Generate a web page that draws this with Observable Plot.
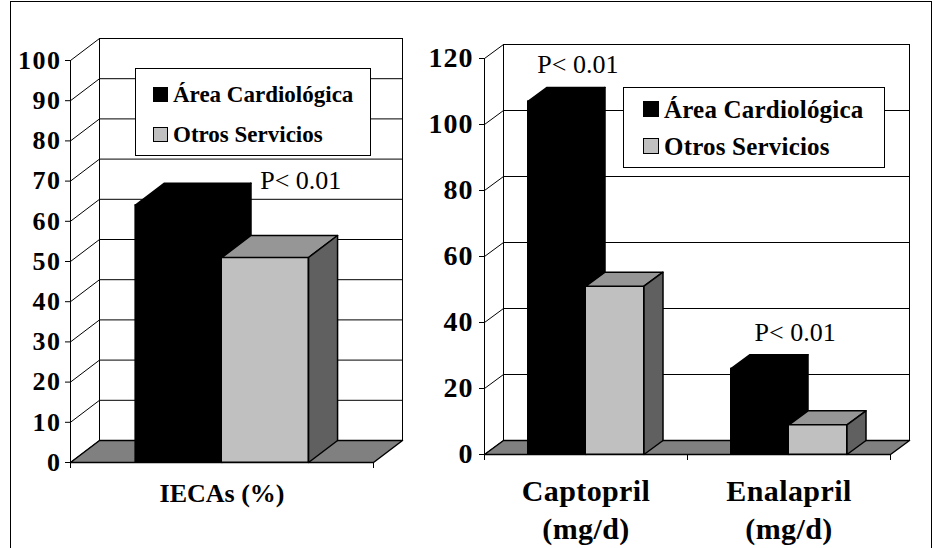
<!DOCTYPE html>
<html><head><meta charset="utf-8">
<script src="https://cdn.jsdelivr.net/npm/d3@7"></script>
<script src="https://cdn.jsdelivr.net/npm/@observablehq/plot@0.6"></script>
<style>
body{margin:0;background:#fff;}
#wrap{position:relative;width:935px;height:548px;overflow:hidden;background:#fff;font-family:"Liberation Serif","Times New Roman",serif;}
#wrap svg{position:absolute;top:0;}
.frame{position:absolute;left:10px;top:1px;width:922px;height:600px;border:1px solid #000;box-sizing:border-box;}
.legend{position:absolute;background:#fff;border:1px solid #000;box-sizing:border-box;z-index:5;}
.legend .row{position:absolute;display:flex;align-items:center;font-weight:bold;line-height:1;white-space:nowrap;}
.legend .sw{border:1px solid #000;box-sizing:border-box;margin-right:5px;flex:none;}
</style></head>
<body><div id="wrap"><div class="frame"></div></div>
<script>
// ---------- data ----------
const seriesNames = ["Área Cardiológica", "Otros Servicios"];
const seriesFront = ["#000000", "#c0c0c0"];
const seriesTop = ["#000000", "#969696"];
const seriesSide = ["#000000", "#606060"];

const leftCategories = ["IECAs (%)"];
const leftAreaCardio = [64];
const leftOtros = [51];
const leftTicks = [0, 10, 20, 30, 40, 50, 60, 70, 80, 90, 100];
const leftNotes = ["P< 0.01"];
const leftNoteX = [0.76];
const leftNoteY = [68];

const rightCategories = ["Captopril\n(mg/d)", "Enalapril\n(mg/d)"];
const rightAreaCardio = [107, 26];
const rightOtros = [51, 9];
const rightTicks = [0, 20, 40, 60, 80, 100, 120];
const rightNotes = ["P< 0.01", "P< 0.01"];
const rightNoteX = [0.46, 1.53];
const rightNoteY = [115.5, 34.5];

// ---------- chart builder ----------
function chart3d(cfg) {
  const {categories, values, ticks, width, height, xRange, yRange, depth,
         tickFont, tickDx, catFont, catDy, notes, noteX, noteY} = cfg;
  const n = categories.length;
  const yMax = ticks[ticks.length - 1];
  const kx = (xRange[1] - xRange[0]) / n;
  const ky = (yRange[0] - yRange[1]) / yMax;
  const ddx = depth[0] / kx, ddy = depth[1] / ky;
  const bw = 1 / 3.5; // gap width 150%
  const X = d => d[0], Y = d => d[1];
  const marks = [];
  // walls
  marks.push(Plot.link(ticks, {x1: 0, y1: t => t, x2: ddx, y2: t => t + ddy, stroke: "#000", strokeWidth: 1}));
  marks.push(Plot.ruleY(ticks.slice(1), {y: t => t + ddy, x1: ddx, x2: n + ddx, stroke: "#000", strokeWidth: 1}));
  marks.push(Plot.ruleX([ddx, n + ddx], {y1: ddy, y2: yMax + ddy, stroke: "#000"}));
  marks.push(Plot.ruleX([0], {y1: 0, y2: yMax, stroke: "#000"}));
  // y ticks + labels
  marks.push(Plot.ruleY(ticks, {y: t => t, x1: -5 / kx, x2: 0, stroke: "#000"}));
  marks.push(Plot.text(ticks, {x: 0, y: t => t, text: t => String(t), textAnchor: "end", dx: tickDx,
    fontSize: tickFont, fontWeight: "bold", fontFamily: "Liberation Serif", fill: "#000"}));
  // floor
  marks.push(Plot.line([[0, 0], [n, 0], [n + ddx, ddy], [ddx, ddy]],
    {x: X, y: Y, fill: "#808080", stroke: "#000", curve: "linear-closed"}));
  // x ticks
  marks.push(Plot.ruleX(d3.range(n + 1), {y1: 0, y2: -6 / ky, stroke: "#000"}));
  // bars
  categories.forEach((c, i) => {
    values.forEach((vals, j) => {
      const v = vals[i];
      const x1 = i + 0.5 - bw + j * bw, x2 = x1 + bw;
      marks.push(Plot.rect([{x1, x2, y1: 0, y2: v}], {x1: "x1", x2: "x2", y1: "y1", y2: "y2",
        fill: seriesFront[j], stroke: "#000", strokeWidth: 1}));
      marks.push(Plot.line([[x1, v], [x2, v], [x2 + ddx, v + ddy], [x1 + ddx, v + ddy]],
        {x: X, y: Y, fill: seriesTop[j], stroke: "#000", curve: "linear-closed"}));
      marks.push(Plot.line([[x2, 0], [x2 + ddx, ddy], [x2 + ddx, v + ddy], [x2, v]],
        {x: X, y: Y, fill: seriesSide[j], stroke: "#000", curve: "linear-closed"}));
    });
  });
  // category labels
  marks.push(Plot.text(categories, {x: (d, i) => i + 0.5, y: 0, text: d => d, lineAnchor: "top", dy: catDy,
    lineHeight: 1.25, fontSize: catFont, fontWeight: "bold", fontFamily: "Liberation Serif", fill: "#000"}));
  // annotations
  marks.push(Plot.text(notes, {x: (d, i) => noteX[i], y: (d, i) => noteY[i], text: d => d, lineAnchor: "bottom",
    fontSize: 26, fontFamily: "Liberation Serif", fill: "#000"}));
  const svg = Plot.plot({
    width, height, margin: 0,
    x: {type: "linear", domain: [0, n], range: xRange, axis: null},
    y: {type: "linear", domain: [0, yMax], range: yRange, axis: null},
    style: {background: "transparent", overflow: "visible"},
    marks
  });
  d3.select(svg).selectAll("text").each(function() {
    const s = this.textContent;
    if (/^\d+$/.test(s)) this.style.letterSpacing = cfg.tickSpacing + "px";
    else if (!s.startsWith("P<")) this.style.letterSpacing = cfg.catSpacing + "px";
  });
  return svg;
}

const wrap = document.getElementById("wrap");

const left = chart3d({
  categories: leftCategories, values: [leftAreaCardio, leftOtros], ticks: leftTicks,
  width: 440, height: 548, xRange: [70, 373], yRange: [462, 60], depth: [29, 22],
  tickFont: 26, tickDx: -9, tickSpacing: 1.5, catFont: 26, catDy: 16, catSpacing: 0,
  notes: leftNotes, noteX: leftNoteX, noteY: leftNoteY
});
left.style.left = "0px";
wrap.appendChild(left);

const right = chart3d({
  categories: rightCategories, values: [rightAreaCardio, rightOtros], ticks: rightTicks,
  width: 495, height: 548, xRange: [44, 450], yRange: [454, 58], depth: [19, 14],
  tickFont: 28, tickDx: -11, tickSpacing: 1, catFont: 30, catDy: 20, catSpacing: 0.4,
  notes: rightNotes, noteX: rightNoteX, noteY: rightNoteY
});
right.style.left = "440px";
wrap.appendChild(right);

// ---------- legends ----------
function legend(box, rowTops, rowH, sw, fontSize, spacing) {
  const div = document.createElement("div");
  div.className = "legend";
  Object.assign(div.style, {left: box[0] + "px", top: box[1] + "px", width: box[2] + "px", height: box[3] + "px"});
  seriesNames.forEach((name, j) => {
    const row = document.createElement("div");
    row.className = "row";
    Object.assign(row.style, {left: box[4] + "px", top: rowTops[j] + "px", height: rowH + "px",
      fontSize: fontSize + "px", letterSpacing: spacing + "px"});
    const s = document.createElement("span");
    s.className = "sw";
    Object.assign(s.style, {width: sw + "px", height: sw + "px", background: seriesFront[j]});
    const t = document.createElement("span");
    t.textContent = name;
    row.appendChild(s); row.appendChild(t);
    div.appendChild(row);
  });
  wrap.appendChild(div);
}
legend([135, 68, 236, 88, 17], [10, 50], 31, 15, 23, 0);
legend([623, 87, 262, 81, 19], [5, 42], 32, 16, 25, 0.2);
</script>
</body></html>
